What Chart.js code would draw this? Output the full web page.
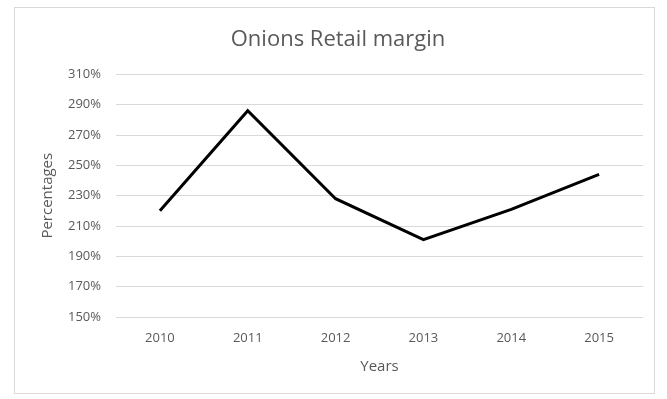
<!DOCTYPE html>
<html>
<head>
<meta charset="utf-8">
<title>Onions Retail margin</title>
<script src="https://cdn.jsdelivr.net/npm/chart.js@4/dist/chart.umd.min.js"></script>
<style>
  html, body { margin: 0; padding: 0; background: #fff; }
  #wrap { position: relative; width: 667px; height: 399px; }
</style>
</head>
<body>
<div id="wrap"><canvas id="chart" width="667" height="399"></canvas></div>
<script>
// retail margin for onions, per year (in %)
const years = ['2010', '2011', '2012', '2013', '2014', '2015'];
const marginPct = [220, 286, 228, 201, 221, 244];
const yTicks = [150, 170, 190, 210, 230, 250, 270, 290, 310];

const textGray = '#595959';
const gridGray = '#d9d9d9';
const fontFamily = '"Open Sans", "Liberation Sans", sans-serif';

// light frame round the whole chart, like an office chart object
const frame = {
  id: 'frame',
  beforeDraw(chart) {
    const ctx = chart.ctx;
    ctx.save();
    ctx.fillStyle = '#fff';
    ctx.fillRect(0, 0, chart.width, chart.height);
    ctx.strokeStyle = gridGray;
    ctx.lineWidth = 1;
    ctx.strokeRect(14.5, 7.5, 640, 386);
    ctx.restore();
  }
};

new Chart(document.getElementById('chart').getContext('2d'), {
  type: 'line',
  data: {
    labels: years,
    datasets: [{
      label: 'Retail margin',
      data: marginPct,
      borderColor: '#000',
      borderWidth: 3,
      pointRadius: 0,
      tension: 0,
      fill: false
    }]
  },
  options: {
    responsive: false,
    animation: false,
    layout: { padding: { left: 33, right: 24, top: 10, bottom: 10 } },
    plugins: {
      legend: { display: false },
      tooltip: { enabled: false },
      title: {
        display: true,
        text: 'Onions Retail margin',
        color: textGray,
        font: { family: fontFamily, size: 22, weight: 'normal' },
        padding: { top: 17, bottom: 21 }
      }
    },
    scales: {
      x: {
        offset: true,
        grid: { display: false, drawTicks: false },
        border: { display: false },
        ticks: { color: textGray, font: { family: fontFamily, size: 13 }, padding: 13, maxRotation: 0 },
        title: {
          display: true, text: 'Years', color: textGray,
          font: { family: fontFamily, size: 15 }, padding: { top: 0, bottom: 13 }
        },
        afterFit(scale) { scale.height = 72; }
      },
      y: {
        min: 150,
        max: 310,
        afterBuildTicks(scale) { scale.ticks = yTicks.map(v => ({ value: v })); },
        grid: { color: gridGray, lineWidth: 1, drawTicks: false },
        border: { display: false },
        ticks: {
          color: textGray,
          font: { family: fontFamily, size: 13 },
          padding: 15,
          callback: v => v + '%'
        },
        title: {
          display: true, text: 'Percentages', color: textGray,
          font: { family: fontFamily, size: 15 }, padding: { top: 6, bottom: 0 }
        },
        afterFit(scale) { scale.width = 83; }
      }
    }
  },
  plugins: [frame]
});
</script>
</body>
</html>
